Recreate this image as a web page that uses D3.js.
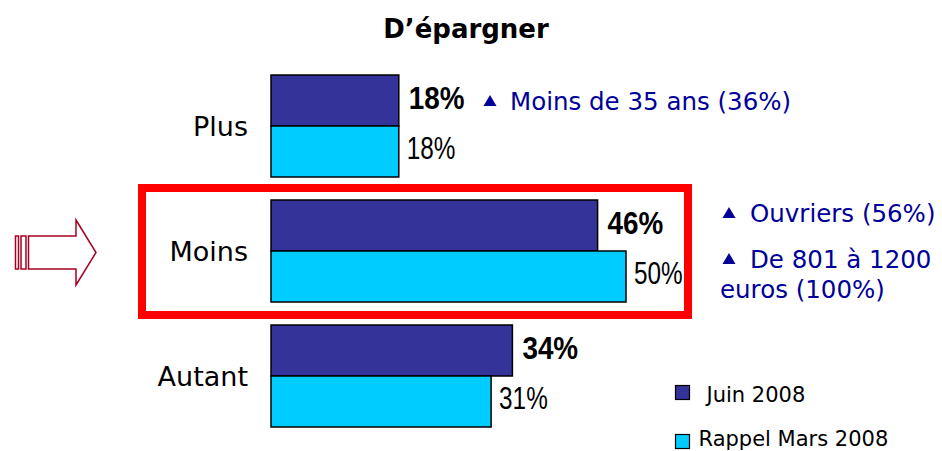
<!DOCTYPE html>
<html>
<head>
  <meta charset="utf-8">
  <script src="https://d3js.org/d3.v7.min.js"></script>
  <style>
    body { margin: 0; background: #fff; }
  </style>
</head>
<body>
  <script type="text/javascript">
    // chart data
    var categories = ["Plus", "Moins", "Autant"];
    var series = ["Juin 2008", "Rappel Mars 2008"];
    var juin2008 = [18, 46, 34];
    var mars2008 = [18, 50, 31];
    var title = "D\u2019épargner";
    var notePlus = ["Moins de 35 ans (36%)"];
    var noteMoins = ["Ouvriers (56%)", "De 801 à 1200", "euros (100%)"];

    var colors = ["#333399", "#00CCFF"];
    var noteColor = "#000099";

    var width = 942, height = 451;

    var svg = d3.select("body")
      .append("svg")
        .attr("width", width)
        .attr("height", height);

    var x = d3.scaleLinear().domain([0, 50]).range([271, 626]);

    var y = d3.scaleBand()
      .domain(categories)
      .range([63.5, 438.5])
      .paddingInner(0.184)
      .paddingOuter(0.092);

    var ySub = d3.scaleBand()
      .domain(series)
      .range([0, y.bandwidth()]);

    // title
    svg.append("text")
      .attr("x", 466).attr("y", 38)
      .attr("text-anchor", "middle")
      .style("font-family", "DejaVu Sans")
      .style("font-weight", "bold")
      .style("font-size", "26px")
      .text(title);

    // highlight box around "Moins"
    svg.append("rect")
      .attr("x", 142).attr("y", y("Moins") - 12)
      .attr("width", 546).attr("height", y.bandwidth() + 25)
      .attr("fill", "none")
      .attr("stroke", "#FF0000")
      .attr("stroke-width", 8);

    // bars
    var rows = categories.map(function(c, i) {
      return { cat: c, vals: [juin2008[i], mars2008[i]] };
    });

    var g = svg.selectAll(".group")
      .data(rows)
      .enter().append("g")
        .attr("class", "group")
        .attr("transform", function(d) { return "translate(0," + y(d.cat) + ")"; });

    g.selectAll("rect")
      .data(function(d) { return d.vals; })
      .enter().append("rect")
        .attr("x", x(0))
        .attr("y", function(d, i) { return ySub(series[i]); })
        .attr("width", function(d) { return x(d) - x(0); })
        .attr("height", ySub.bandwidth())
        .attr("fill", function(d, i) { return colors[i]; })
        .attr("stroke", "#000")
        .attr("stroke-width", 1.5);

    // value labels, squeezed a bit like the narrow font of the original
    g.selectAll(".val")
      .data(function(d) { return d.vals; })
      .enter().append("text")
        .attr("class", "val")
        .attr("transform", function(d, i) {
          var tx = x(d) + (i === 0 ? 10 : 8),
              ty = ySub(series[i]) + ySub.bandwidth() / 2 + (i === 0 ? 8 : 7);
          return "translate(" + tx + "," + ty + ") scale(" + (i === 0 ? 0.87 : 0.76) + ",1)";
        })
        .style("font-family", "'Liberation Sans'")
        .style("font-weight", function(d, i) { return i === 0 ? "bold" : "normal"; })
        .style("font-size", "32px")
        .text(function(d) { return d + "%"; });

    // category labels
    g.append("text")
      .attr("x", 248)
      .attr("y", y.bandwidth() / 2 + 10)
      .attr("text-anchor", "end")
      .style("font-family", "DejaVu Sans")
      .style("font-size", "27px")
      .text(function(d) { return d.cat; });

    // notes
    function triangle(cx, by) {
      svg.append("path")
        .attr("d", "M" + (cx - 6.5) + "," + by + "L" + (cx + 6.5) + "," + by + "L" + cx + "," + (by - 11) + "Z")
        .attr("fill", noteColor);
    }
    function note(txt, tx, ty) {
      svg.append("text")
        .attr("x", tx).attr("y", ty)
        .attr("fill", noteColor)
        .style("font-family", "DejaVu Sans")
        .style("font-size", "24.5px")
        .text(txt);
    }
    triangle(490, 106);
    note(notePlus[0], 510, 110);
    triangle(729, 218);
    note(noteMoins[0], 750, 222);
    triangle(729, 264);
    note(noteMoins[1], 750, 268);
    note(noteMoins[2], 720, 298);

    // arrow
    var arrow = svg.append("g")
      .attr("fill", "#fff")
      .attr("stroke", "#A50021")
      .attr("stroke-width", 1.5);
    arrow.append("rect").attr("x", 15.5).attr("y", 236).attr("width", 3).attr("height", 33);
    arrow.append("rect").attr("x", 21).attr("y", 236).attr("width", 5).attr("height", 33);
    arrow.append("path")
      .attr("d", "M28.5,236 L76,236 L76,220 L96,252.5 L76,285 L76,269 L28.5,269 Z");

    // legend
    var legend = svg.selectAll(".legend")
      .data(series)
      .enter().append("g")
        .attr("class", "legend")
        .attr("transform", function(d, i) { return "translate(675.5," + (385.5 + i * 49) + ")"; });
    legend.append("rect")
      .attr("width", 14).attr("height", 14)
      .attr("fill", function(d, i) { return colors[i]; })
      .attr("stroke", "#000")
      .attr("stroke-width", 1.2);
    legend.append("text")
      .attr("x", function(d, i) { return i === 0 ? 31 : 23; })
      .attr("y", function(d, i) { return i === 0 ? 16 : 11; })
      .style("font-family", "DejaVu Sans")
      .style("font-size", "21px")
      .text(function(d) { return d; });
  </script>
</body>
</html>
